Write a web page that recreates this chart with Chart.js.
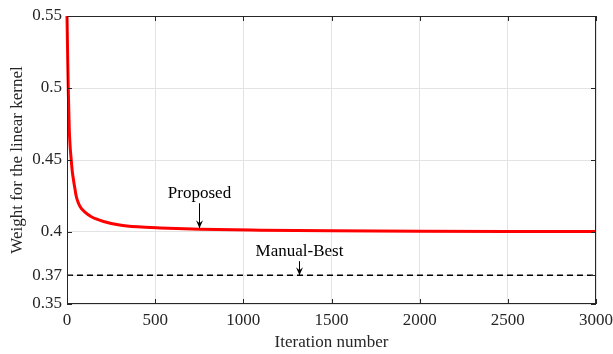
<!DOCTYPE html>
<html>
<head>
<meta charset="utf-8">
<script src="https://cdn.jsdelivr.net/npm/chart.js@4/dist/chart.umd.min.js"></script>
<style>
  html, body { margin: 0; padding: 0; background: #fff; }
  #wrap { width: 613px; height: 354px; }
</style>
</head>
<body>
<div id="wrap"><canvas id="chart" width="613" height="354"></canvas></div>
<script>
// curve
const iters = [0, 4, 8, 13, 18, 24, 30, 37, 45, 53, 65, 81, 100, 138, 213, 298, 400, 528, 756, 1100, 1500, 2000, 2500, 3000];
const weights = [0.55, 0.52, 0.495, 0.471, 0.459, 0.45, 0.442, 0.436, 0.43, 0.4245, 0.42, 0.4164, 0.414, 0.4106, 0.4071, 0.4049, 0.4036, 0.4028, 0.4019, 0.4013, 0.4009, 0.4006, 0.4004, 0.4003];
const manualBest = 0.37;
const manualX = [0, 3000];

const xTicks = [0, 500, 1000, 1500, 2000, 2500, 3000];
const yTicks = [0.35, 0.37, 0.4, 0.45, 0.5, 0.55];

const annoText = ['Proposed', 'Manual-Best'];
const annoX = [750, 1313];
const annoY = [0.4019, 0.37];

const ink = '#262626';
const serif = '"Liberation Serif", "Times New Roman", serif';

// box around the plot, inward ticks and the arrow labels
const boxPlugin = {
    id: 'box',
    afterDraw(chart) {
        const ctx = chart.ctx;
        const a = chart.chartArea;
        const xs = chart.scales.x, ys = chart.scales.y;
        ctx.save();
        ctx.strokeStyle = ink;
        ctx.lineWidth = 1;
        ctx.strokeRect(a.left + 0.5, a.top + 0.5, a.right - a.left - 1, a.bottom - a.top - 1);
        ctx.beginPath();
        xTicks.forEach(v => {
            const px = Math.round(xs.getPixelForValue(v)) + 0.5;
            ctx.moveTo(px, a.bottom); ctx.lineTo(px, a.bottom - 5);
            ctx.moveTo(px, a.top); ctx.lineTo(px, a.top + 5);
        });
        yTicks.forEach(v => {
            const py = Math.round(ys.getPixelForValue(v)) + 0.5;
            ctx.moveTo(a.left, py); ctx.lineTo(a.left + 5, py);
            ctx.moveTo(a.right, py); ctx.lineTo(a.right - 5, py);
        });
        ctx.stroke();

        // annotations
        ctx.fillStyle = '#000';
        ctx.strokeStyle = '#000';
        ctx.font = '17px ' + serif;
        ctx.textAlign = 'center';
        ctx.textBaseline = 'alphabetic';
        const gaps = [[-31, -26, -1], [-19, -14, 0]];
        annoText.forEach((t, i) => {
            const px = Math.round(xs.getPixelForValue(annoX[i])) + 0.5;
            const py = ys.getPixelForValue(annoY[i]);
            ctx.fillText(t, px, py + gaps[i][0]);
            ctx.lineWidth = 1;
            ctx.beginPath();
            ctx.moveTo(px, py + gaps[i][1]);
            ctx.lineTo(px, py + gaps[i][2]);
            ctx.stroke();
            ctx.beginPath();
            ctx.moveTo(px - 3.5, py + gaps[i][2] - 8);
            ctx.lineTo(px, py + gaps[i][2]);
            ctx.lineTo(px + 3.5, py + gaps[i][2] - 8);
            ctx.lineTo(px, py + gaps[i][2] - 5);
            ctx.closePath();
            ctx.fill();
        });
        ctx.restore();
    }
};

const ctx = document.getElementById('chart').getContext('2d');
new Chart(ctx, {
    type: 'scatter',
    data: {
        datasets: [{
            label: 'Proposed',
            data: iters.map((x, i) => ({ x: x, y: weights[i] })),
            showLine: true,
            borderColor: '#ff0000',
            borderWidth: 3,
            pointRadius: 0,
            cubicInterpolationMode: 'monotone',
            clip: false
        },
        {
            label: 'Manual-Best',
            data: manualX.map(x => ({ x: x, y: manualBest })),
            showLine: true,
            borderColor: '#000',
            borderWidth: 1.5,
            borderDash: [6, 4],
            pointRadius: 0
        }]
    },
    options: {
        responsive: false,
        animation: false,
        layout: { padding: { left: 0, top: 16, right: 0, bottom: 0 } },
        plugins: { legend: { display: false }, tooltip: { enabled: false } },
        scales: {
            x: {
                type: 'linear',
                min: 0, max: 3000,
                afterBuildTicks: s => { s.ticks = xTicks.map(v => ({ value: v })); },
                afterFit: s => { s.height = 50; s.paddingRight = 17; s.paddingLeft = 0; },
                grid: { color: '#e3e3e3', drawTicks: false },
                border: { display: false },
                ticks: { color: ink, padding: 6, font: { family: serif, size: 17 }, callback: v => String(v) },
                title: { display: true, text: 'Iteration number', color: ink, padding: { top: 0, bottom: 1 }, font: { family: serif, size: 17 } }
            },
            y: {
                min: 0.35, max: 0.55,
                afterBuildTicks: s => { s.ticks = yTicks.map(v => ({ value: v })); },
                afterFit: s => { s.width = 67; },
                grid: { color: '#e3e3e3', drawTicks: false },
                border: { display: false },
                ticks: { color: ink, padding: 5, font: { family: serif, size: 17 }, callback: v => String(v) },
                title: { display: true, text: 'Weight for the linear kernel', color: ink, padding: { top: 7, bottom: 0 }, font: { family: serif, size: 17 } }
            }
        }
    },
    plugins: [boxPlugin]
});
</script>
</body>
</html>
